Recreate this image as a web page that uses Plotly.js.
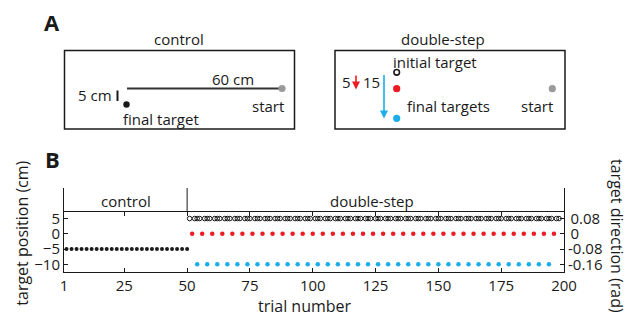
<!DOCTYPE html>
<html>
<head>
<meta charset="utf-8">
<script src="https://cdn.plot.ly/plotly-3.0.1.min.js"></script>
<style>html,body{margin:0;padding:0;background:#fff;}#chart{width:627px;height:319px;}</style>
</head>
<body>
<div id="chart"></div>
<script>
// ---------------- DATA (panel B) ----------------
const controlTrials = [2,4,6,8,10,12,14,16,18,20,22,24,26,28,30,32,34,36,38,40,42,44,46,48,50];
const controlPos = [-5,-5,-5,-5,-5,-5,-5,-5,-5,-5,-5,-5,-5,-5,-5,-5,-5,-5,-5,-5,-5,-5,-5,-5,-5];

const initialTrials = [
  51,53,54,55,57,58,59,61,62,63,
  65,66,67,69,70,71,73,74,75,77,
  78,79,81,82,83,85,86,87,89,90,
  91,93,94,95,97,98,99,101,102,103,
  105,106,107,109,110,111,113,114,115,117,
  118,119,121,122,123,125,126,127,129,130,
  131,133,134,135,137,138,139,141,142,143,
  145,146,147,149,150,151,153,154,155,157,
  158,159,161,162,163,165,166,167,169,170,
  171,173,174,175,177,178,179,181,182,183,
  185,186,187,189,190,191,193,194,195,197,
  198];
const initialPos = [
  5,5,5,5,5,5,5,5,5,5, 5,5,5,5,5,5,5,5,5,5,
  5,5,5,5,5,5,5,5,5,5, 5,5,5,5,5,5,5,5,5,5,
  5,5,5,5,5,5,5,5,5,5, 5,5,5,5,5,5,5,5,5,5,
  5,5,5,5,5,5,5,5,5,5, 5,5,5,5,5,5,5,5,5,5,
  5,5,5,5,5,5,5,5,5,5, 5,5,5,5,5,5,5,5,5,5,
  5,5,5,5,5,5,5,5,5,5, 5];

const smallStepTrials = [52,56,60,64,68,72,76,80,84,88,92,96,100,104,108,112,116,120,124,128,132,136,140,144,148,152,156,160,164,168,172,176,180,184,188,192,196];
const smallStepPos = [0,0,0,0,0,0,0,0,0,0,0,0,0,0,0,0,0,0,0,0,0,0,0,0,0,0,0,0,0,0,0,0,0,0,0,0,0];

const largeStepTrials = [54,58,62,66,70,74,78,82,86,90,94,98,102,106,110,114,118,122,126,130,134,138,142,146,150,154,158,162,166,170,174,178,182,186,190,194];
const largeStepPos = [-10,-10,-10,-10,-10,-10,-10,-10,-10,-10,-10,-10,-10,-10,-10,-10,-10,-10,-10,-10,-10,-10,-10,-10,-10,-10,-10,-10,-10,-10,-10,-10,-10,-10,-10,-10];

const xTickVals = [1,25,50,75,100,125,150,175,200];
const yTickVals = [5,0,-5,-10];
const y2TickVals = [0.08,0,-0.08,-0.16];
const y2TickText = ['\u20090.08','\u20090','-0.08','-0.16'];
const yRange = [-12.5, 15];
const y2Range = [-0.2, 0.24];
const phaseBoundary = 50;
const headerLevel = 7.5;

// ---------------- COLOURS / LAYOUT CONSTANTS ----------------
const INK = '#1a1a1a', RED = '#ed1c24', BLUE = '#1aaeea', GREY = '#9a9a9a';
const W = 627, H = 319;
const M = {l:64, r:63, t:188, b:47};
const PW = W - M.l - M.r, PH = H - M.t - M.b;
const px = x => (x - M.l) / PW;
const py = y => (H - M.b - y) / PH;
const FONT = 'Open Sans, Noto Sans, sans-serif';

// ---------------- TRACES ----------------
const traces = [
  {x: controlTrials, y: controlPos, type:'scatter', mode:'markers', cliponaxis:false,
   marker:{color:INK, size:4}},
  {x: initialTrials, y: initialPos, type:'scatter', mode:'markers', cliponaxis:false,
   marker:{symbol:'circle-open', color:'#1a1a1a', size:4.6, line:{width:1, color:'#1a1a1a'}}},
  {x: smallStepTrials, y: smallStepPos, type:'scatter', mode:'markers', cliponaxis:false,
   marker:{color:RED, size:4.5}},
  {x: largeStepTrials, y: largeStepPos, type:'scatter', mode:'markers', cliponaxis:false,
   marker:{color:BLUE, size:4.5}},
  {x: [], y: [], xaxis:'x2', yaxis:'y', type:'scatter', mode:'markers', hoverinfo:'skip'},
  {x: [], y: [], xaxis:'x', yaxis:'y2', type:'scatter', mode:'markers', hoverinfo:'skip'}
];

// ---------------- PANEL A SCHEMATIC (pixel layout) ----------------
const shapes = [];
function rectPx(x0,y0,x1,y1,w){ shapes.push({type:'rect', xref:'paper', yref:'paper',
  x0:px(x0), x1:px(x1), y0:py(y1), y1:py(y0), line:{color:INK, width:w}}); }
function linePx(x0,y0,x1,y1,w,c){ shapes.push({type:'line', xref:'paper', yref:'paper',
  x0:px(x0), x1:px(x1), y0:py(y0), y1:py(y1), line:{color:c||INK, width:w}}); }
function dotPx(cx,cy,r,fill,lineC,lw){ shapes.push({type:'circle', xref:'paper', yref:'paper',
  x0:px(cx-r), x1:px(cx+r), y0:py(cy+r), y1:py(cy-r), fillcolor:fill,
  line:{color:lineC||fill, width:lw||0}}); }

rectPx(64.5, 50.5, 294.5, 129, 1.5);
linePx(127, 88.5, 281, 88.5, 2, '#333');
dotPx(282, 88.5, 3.6, GREY);
dotPx(126.5, 104.5, 3.2, INK);
linePx(117.5, 90.5, 117.5, 101, 2);

rectPx(335, 50.5, 565, 129, 1.5);
dotPx(396.7, 72.3, 2.8, '#fff', INK, 1.6);
dotPx(396.7, 88.7, 3.6, RED);
dotPx(396.7, 118.3, 3.6, BLUE);
dotPx(552.3, 88.7, 3.6, GREY);

// panel B separator between phases
shapes.push({type:'line', xref:'x', yref:'y', x0:phaseBoundary, x1:phaseBoundary, y0:headerLevel, y1:yRange[1],
  line:{color:INK, width:1}});

function txt(text, x, y, size, opts){
  return Object.assign({text:text, xref:'paper', yref:'paper', x:px(x), y:py(y),
    xanchor:'center', yanchor:'middle', showarrow:false,
    font:{family:FONT, size:size, color:INK}}, opts||{});
}
const annotations = [
  txt('<b>A</b>', 52, 22, 22),
  txt('control', 179, 39, 15),
  txt('60 cm', 233, 78.5, 15),
  txt('start', 268.3, 106, 15),
  txt('final target', 161, 118.5, 15),
  txt('5 cm', 95, 95, 15),
  txt('double-step', 443, 39, 15),
  txt('initial target', 435, 62, 15),
  txt('final targets', 448, 106, 15),
  txt('start', 536.7, 106, 15),
  txt('5', 346, 81.5, 15),
  txt('15', 371.7, 81.5, 15),
  txt('<b>B</b>', 52, 158.5, 22),
  txt('control', 125.7, 201, 15),
  txt('double-step', 371.7, 201, 15),
  txt('trial number', 305.3, 306, 16),
  txt('target position (cm)', 21.7, 233, 16, {textangle:-90}),
  txt('target direction (rad)', 617, 236, 16, {textangle:90}),
  // arrows
  {text:'', xref:'paper', yref:'paper', x:px(356), y:py(89.5), ax:0, ay:-15.5,
   showarrow:true, arrowhead:2, arrowsize:1, arrowwidth:1.6, arrowcolor:RED, standoff:0},
  {text:'', xref:'paper', yref:'paper', x:px(384), y:py(118.5), ax:0, ay:-45,
   showarrow:true, arrowhead:2, arrowsize:1, arrowwidth:1.6, arrowcolor:BLUE, standoff:0}
];

const axisCommon = {showgrid:false, zeroline:false, showline:true, linecolor:INK, linewidth:1,
  ticks:'inside', ticklen:4, tickwidth:1, tickcolor:INK, tickfont:{family:FONT, size:15, color:INK}};

const layout = {
  width:W, height:H, margin:{l:M.l, r:M.r, t:M.t, b:M.b, pad:0},
  paper_bgcolor:'#fff', plot_bgcolor:'rgba(0,0,0,0)', showlegend:false,
  font:{family:FONT, size:15, color:INK},
  xaxis: Object.assign({}, axisCommon, {range:[1,200], tickvals:xTickVals, tickmode:'array'}),
  xaxis2: Object.assign({}, axisCommon, {range:[1,200], tickvals:xTickVals, tickmode:'array',
    overlaying:'x', anchor:'free', position:(headerLevel - yRange[0])/(yRange[1]-yRange[0]),
    side:'top', showticklabels:false}),
  yaxis: Object.assign({}, axisCommon, {range:yRange, tickvals:yTickVals, tickmode:'array'}),
  yaxis2: Object.assign({}, axisCommon, {range:y2Range, tickvals:y2TickVals, ticktext:y2TickText,
    tickmode:'array', overlaying:'y', side:'right'}),
  shapes: shapes,
  annotations: annotations
};

Plotly.newPlot('chart', traces, layout, {staticPlot:true, displayModeBar:false});
</script>
</body>
</html>
